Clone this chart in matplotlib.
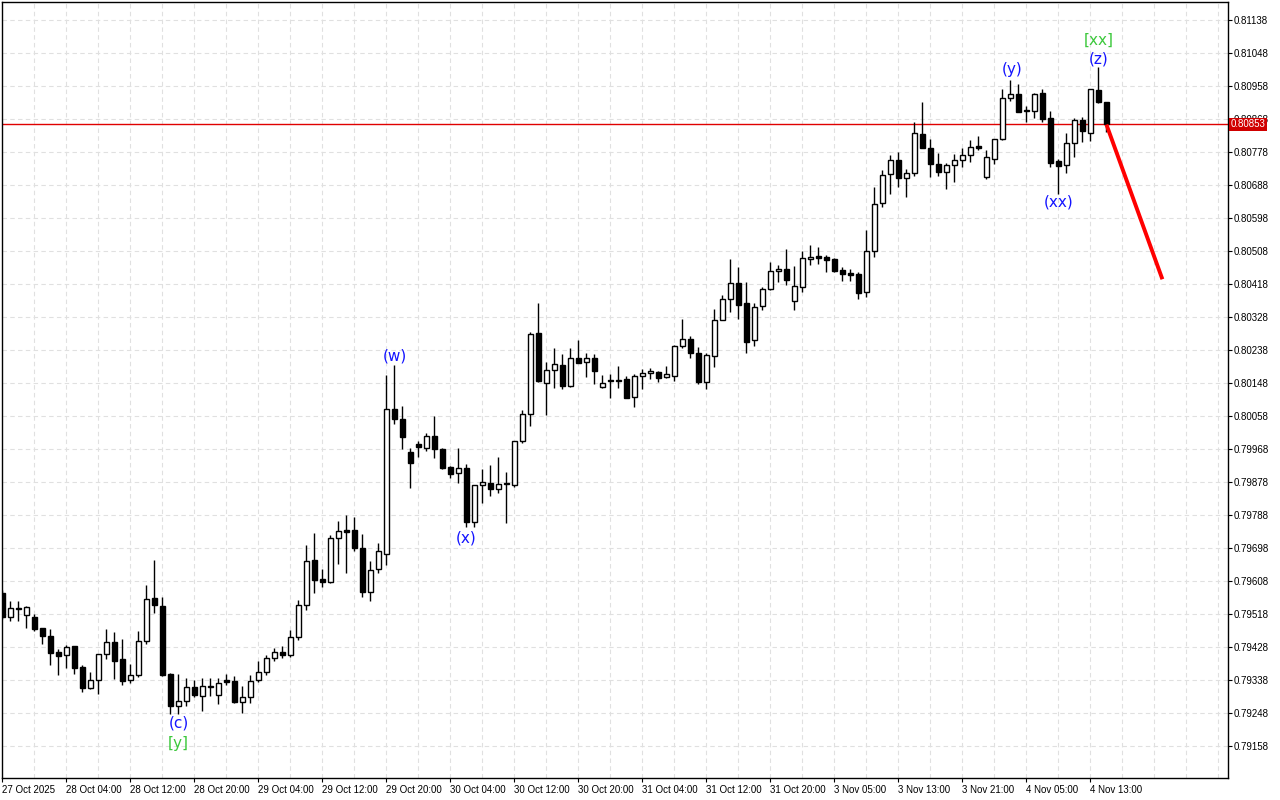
import matplotlib
matplotlib.use("Agg")
import matplotlib.pyplot as plt
import matplotlib.transforms as mtransforms

# H1 candles
opens = [
    0.79575, 0.79510, 0.79534, 0.79515, 0.79510, 0.79480, 0.79458, 0.79414, 0.79406, 0.79431,
    0.79373, 0.79316, 0.79338, 0.79409, 0.79442, 0.79395, 0.79338, 0.79352, 0.79444, 0.79562,
    0.79540, 0.79354, 0.79267, 0.79281, 0.79319, 0.79294, 0.79320, 0.79297, 0.79338, 0.79335,
    0.79278, 0.79292, 0.79338, 0.79360, 0.79398, 0.79414, 0.79406, 0.79455, 0.79543, 0.79665,
    0.79613, 0.79605, 0.79725, 0.79747, 0.79747, 0.79698, 0.79578, 0.79641, 0.79682, 0.80077,
    0.80050, 0.79960, 0.79982, 0.79971, 0.80003, 0.79968, 0.79919, 0.79903, 0.79916, 0.79769,
    0.79870, 0.79875, 0.79859, 0.79875, 0.79870, 0.79990, 0.80063, 0.80284, 0.80148, 0.80183,
    0.80197, 0.80140, 0.80216, 0.80205, 0.80216, 0.80137, 0.80156, 0.80154, 0.80159, 0.80110,
    0.80167, 0.80175, 0.80178, 0.80164, 0.80167, 0.80249, 0.80268, 0.80230, 0.80151, 0.80222,
    0.80320, 0.80377, 0.80421, 0.80366, 0.80265, 0.80358, 0.80404, 0.80453, 0.80459, 0.80372,
    0.80410, 0.80486, 0.80494, 0.80492, 0.80486, 0.80456, 0.80448, 0.80445, 0.80396, 0.80508,
    0.80639, 0.80718, 0.80756, 0.80707, 0.80721, 0.80827, 0.80789, 0.80745, 0.80723, 0.80743,
    0.80756, 0.80770, 0.80794, 0.80710, 0.80759, 0.80813, 0.80925, 0.80936, 0.80890, 0.80890,
    0.80939, 0.80871, 0.80753, 0.80743, 0.80803, 0.80865, 0.80830, 0.80947, 0.80914,
]
highs = [
    0.79583, 0.79553, 0.79553, 0.79540, 0.79518, 0.79480, 0.79477, 0.79423, 0.79433, 0.79431,
    0.79379, 0.79360, 0.79409, 0.79477, 0.79469, 0.79450, 0.79382, 0.79472, 0.79597, 0.79665,
    0.79564, 0.79357, 0.79354, 0.79343, 0.79338, 0.79343, 0.79343, 0.79343, 0.79354, 0.79349,
    0.79322, 0.79352, 0.79390, 0.79406, 0.79425, 0.79431, 0.79474, 0.79556, 0.79706, 0.79739,
    0.79641, 0.79733, 0.79772, 0.79788, 0.79783, 0.79736, 0.79663, 0.79712, 0.80170, 0.80197,
    0.80085, 0.79971, 0.79990, 0.80012, 0.80058, 0.79971, 0.79922, 0.79971, 0.79927, 0.79870,
    0.79913, 0.79924, 0.79946, 0.79905, 0.79990, 0.80074, 0.80287, 0.80366, 0.80205, 0.80243,
    0.80227, 0.80243, 0.80265, 0.80230, 0.80227, 0.80170, 0.80173, 0.80194, 0.80167, 0.80173,
    0.80186, 0.80189, 0.80181, 0.80194, 0.80252, 0.80323, 0.80276, 0.80246, 0.80230, 0.80350,
    0.80388, 0.80486, 0.80464, 0.80423, 0.80366, 0.80410, 0.80478, 0.80470, 0.80513, 0.80467,
    0.80508, 0.80524, 0.80519, 0.80497, 0.80489, 0.80464, 0.80459, 0.80451, 0.80565, 0.80683,
    0.80729, 0.80770, 0.80778, 0.80732, 0.80860, 0.80914, 0.80813, 0.80775, 0.80748, 0.80773,
    0.80789, 0.80811, 0.80822, 0.80783, 0.80813, 0.80950, 0.80974, 0.80963, 0.80903, 0.80939,
    0.80950, 0.80890, 0.80759, 0.80830, 0.80871, 0.80873, 0.80950, 0.81010, 0.80914,
]
lows = [
    0.79504, 0.79499, 0.79499, 0.79480, 0.79472, 0.79436, 0.79379, 0.79352, 0.79371, 0.79354,
    0.79305, 0.79313, 0.79300, 0.79395, 0.79341, 0.79324, 0.79330, 0.79346, 0.79436, 0.79521,
    0.79349, 0.79245, 0.79245, 0.79267, 0.79292, 0.79253, 0.79294, 0.79273, 0.79324, 0.79275,
    0.79248, 0.79275, 0.79333, 0.79352, 0.79390, 0.79398, 0.79401, 0.79447, 0.79529, 0.79575,
    0.79592, 0.79603, 0.79654, 0.79630, 0.79690, 0.79564, 0.79553, 0.79630, 0.79652, 0.80036,
    0.79968, 0.79862, 0.79946, 0.79963, 0.79943, 0.79913, 0.79889, 0.79875, 0.79755, 0.79755,
    0.79821, 0.79840, 0.79848, 0.79766, 0.79864, 0.79984, 0.80031, 0.80151, 0.80061, 0.80134,
    0.80132, 0.80137, 0.80203, 0.80164, 0.80145, 0.80134, 0.80107, 0.80134, 0.80107, 0.80083,
    0.80132, 0.80159, 0.80151, 0.80162, 0.80153, 0.80243, 0.80216, 0.80145, 0.80132, 0.80192,
    0.80320, 0.80342, 0.80323, 0.80230, 0.80249, 0.80347, 0.80402, 0.80423, 0.80415, 0.80347,
    0.80396, 0.80470, 0.80473, 0.80451, 0.80451, 0.80426, 0.80426, 0.80377, 0.80383, 0.80492,
    0.80628, 0.80663, 0.80683, 0.80655, 0.80713, 0.80789, 0.80710, 0.80713, 0.80677, 0.80696,
    0.80737, 0.80751, 0.80783, 0.80704, 0.80745, 0.80811, 0.80917, 0.80887, 0.80860, 0.80871,
    0.80860, 0.80737, 0.80663, 0.80721, 0.80764, 0.80805, 0.80808, 0.80912, 0.80833,
]
closes = [
    0.79510, 0.79534, 0.79532, 0.79537, 0.79477, 0.79458, 0.79412, 0.79403, 0.79428, 0.79371,
    0.79316, 0.79338, 0.79409, 0.79442, 0.79390, 0.79335, 0.79352, 0.79444, 0.79559, 0.79543,
    0.79352, 0.79267, 0.79281, 0.79319, 0.79297, 0.79322, 0.79322, 0.79330, 0.79333, 0.79278,
    0.79292, 0.79335, 0.79360, 0.79398, 0.79414, 0.79406, 0.79455, 0.79543, 0.79663, 0.79611,
    0.79605, 0.79725, 0.79744, 0.79742, 0.79698, 0.79578, 0.79638, 0.79690, 0.80077, 0.80050,
    0.80001, 0.79930, 0.79973, 0.80003, 0.79968, 0.79916, 0.79900, 0.79916, 0.79769, 0.79870,
    0.79878, 0.79859, 0.79873, 0.79873, 0.79990, 0.80063, 0.80282, 0.80153, 0.80183, 0.80200,
    0.80140, 0.80216, 0.80203, 0.80216, 0.80181, 0.80148, 0.80153, 0.80156, 0.80107, 0.80167,
    0.80175, 0.80181, 0.80162, 0.80173, 0.80249, 0.80268, 0.80230, 0.80151, 0.80224, 0.80320,
    0.80377, 0.80421, 0.80361, 0.80260, 0.80355, 0.80404, 0.80453, 0.80459, 0.80429, 0.80413,
    0.80489, 0.80492, 0.80489, 0.80483, 0.80453, 0.80445, 0.80443, 0.80393, 0.80508, 0.80636,
    0.80715, 0.80756, 0.80707, 0.80721, 0.80830, 0.80789, 0.80745, 0.80723, 0.80743, 0.80756,
    0.80770, 0.80792, 0.80789, 0.80764, 0.80813, 0.80925, 0.80936, 0.80887, 0.80893, 0.80936,
    0.80868, 0.80748, 0.80740, 0.80803, 0.80865, 0.80835, 0.80950, 0.80914, 0.80853,
]

time_labels = ["27 Oct 2025", "28 Oct 04:00", "28 Oct 12:00", "28 Oct 20:00", "29 Oct 04:00",
               "29 Oct 12:00", "29 Oct 20:00", "30 Oct 04:00", "30 Oct 12:00", "30 Oct 20:00",
               "31 Oct 04:00", "31 Oct 12:00", "31 Oct 20:00", "3 Nov 05:00", "3 Nov 13:00",
               "3 Nov 21:00", "4 Nov 05:00", "4 Nov 13:00"]
price_ticks = [0.79158, 0.79248, 0.79338, 0.79428, 0.79518, 0.79608, 0.79698, 0.79788,
               0.79878, 0.79968, 0.80058, 0.80148, 0.80238, 0.80328, 0.80418, 0.80508,
               0.80598, 0.80688, 0.80778, 0.80868, 0.80958, 0.81048, 0.81138]

current_price = 0.80853
proj_bars = [138, 145]
proj_prices = [0.80853, 0.80431]

# wave labels: text, bar index, price, colour
wave_text = ["(c)", "[y]", "(w)", "(x)", "(y)", "(xx)", "(z)", "[xx]"]
wave_bar = [22, 22, 49, 58, 126.2, 132, 137, 137]
wave_price = [0.79221, 0.79166, 0.80222, 0.79725, 0.81004, 0.80642, 0.81032, 0.81083]
wave_color = ["blue", "green", "blue", "blue", "blue", "blue", "blue", "green"]

BLUE = "#1414ff"
GREEN = "#3cc83c"

fig = plt.figure(figsize=(12.8, 8), dpi=100)
ax = fig.add_axes([2 / 1280, 22 / 800, 1226 / 1280, 776 / 800])
ax.set_facecolor("white")

idx = list(range(len(opens)))

# grid
for p in price_ticks:
    ax.axhline(p, color="#e0e0e0", lw=0.8, ls=(0, (4, 3)), zorder=0)
for gx in range(4, 154, 4):
    ax.axvline(gx, color="#e0e0e0", lw=0.8, ls=(0, (4, 3)), zorder=0)

# wicks and bodies
ax.vlines(idx, lows, highs, color="black", lw=1, zorder=2)
bottoms = [min(o, c) for o, c in zip(opens, closes)]
heights = [abs(c - o) for o, c in zip(opens, closes)]
fills = ["white" if c >= o else "black" for o, c in zip(opens, closes)]
ax.bar(idx, heights, bottom=bottoms, width=0.62, color=fills,
       edgecolor="black", linewidth=1, zorder=3)

# current price line and projection
ax.axhline(current_price, color="#e00000", lw=1, zorder=1)
ax.plot(proj_bars, proj_prices, color="#ff0000", lw=2.8, zorder=4,
        solid_capstyle="butt")

for t, b, p, c in zip(wave_text, wave_bar, wave_price, wave_color):
    ax.text(b, p, t, color=BLUE if c == "blue" else GREEN, fontsize=11,
            ha="center", va="center", zorder=5)

ax.set_xlim(-0.05, 153.2)
ax.set_ylim(0.79071, 0.81187)

ax.yaxis.tick_right()
ax.set_yticks(price_ticks)
ax.set_yticklabels([f"{p:.5f}" for p in price_ticks])
ax.set_xticks(list(range(0, 8 * len(time_labels), 8)))
ax.set_xticklabels(time_labels, ha="left")
ax.tick_params(axis="both", direction="out", length=3, width=0.8,
               labelsize=7, pad=1)
ax.tick_params(axis="x", pad=2)
for lab in ax.get_xticklabels() + ax.get_yticklabels():
    lab.set_family("Liberation Sans")
for s in ax.spines.values():
    s.set_color("black")
    s.set_linewidth(1)

# price tag on the right axis
trans = mtransforms.blended_transform_factory(ax.transAxes, ax.transData)
ax.text(1.002, current_price, f"{current_price:.5f}", transform=trans,
        color="white", fontsize=7, family="Liberation Sans", ha="left",
        va="center", clip_on=False, zorder=10,
        bbox=dict(boxstyle="square,pad=0.2", fc="#d00000", ec="none"))

fig.savefig("out.png", dpi=100)
